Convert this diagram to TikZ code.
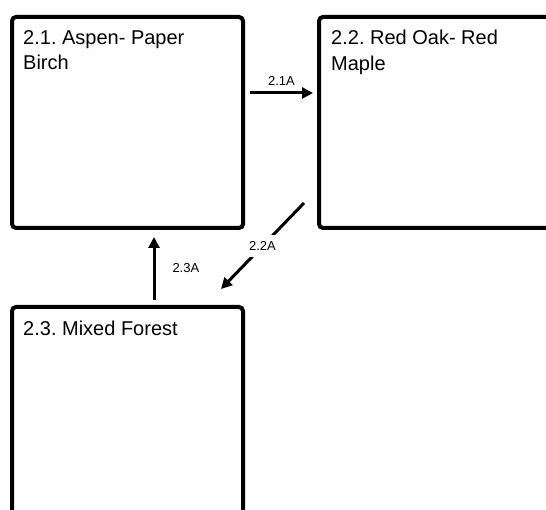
\documentclass[tikz,border=0pt]{standalone}
\usepackage{fontspec}
\setmainfont{Liberation Sans}
\usetikzlibrary{arrows.meta,calc}
\begin{document}
\frenchspacing
\begin{tikzpicture}[x=1pt,y=-1pt,
  box/.style={draw=black,line width=4pt,rounded corners=4pt,minimum width=231pt,minimum height=211pt,anchor=north west,inner sep=0pt},
  title/.style={anchor=north west,align=left,inner sep=0pt,font=\fontsize{20}{25.5}\selectfont},
  arr/.style={line width=3pt,-{Triangle[length=11pt,width=11pt]}},
  lbl/.style={font=\fontsize{13}{15}\selectfont,inner sep=3pt}]
\useasboundingbox (0,0) rectangle (546,510);
\begin{scope}
\clip (0,0) rectangle (546,510);
\node[box] (b1) at (10,15) {};
\node[box] (b2) at (317,15) {};
\node[box] (b3) at (10,305) {};
\end{scope}
\node[title] (t1) at (23,30) {2.1. Aspen- Paper\\Birch};
\node[title] (t2) at (331,30) {2.2. Red Oak- Red\\Maple};
\node[title] (t3) at (23,321) {2.3. Mixed Forest};
\draw[arr] ([shift={(5,78)}]b1.north east) -- node[lbl,above=3pt] (l1) {2.1A} ([shift={(-4,78)}]b2.north west);
\draw[arr] ([shift={(-13,188)}]b2.north west) -- node[lbl,fill=white,inner ysep=6pt,pos=0.5] (l2) {2.2A} ([shift={(-24,-16)}]b3.north east);
\draw[arr] ([shift={(144,-5)}]b3.north west) -- node[lbl,right=14pt] (l3) {2.3A} ([shift={(144,7)}]b1.south west);
\end{tikzpicture}
\end{document}
